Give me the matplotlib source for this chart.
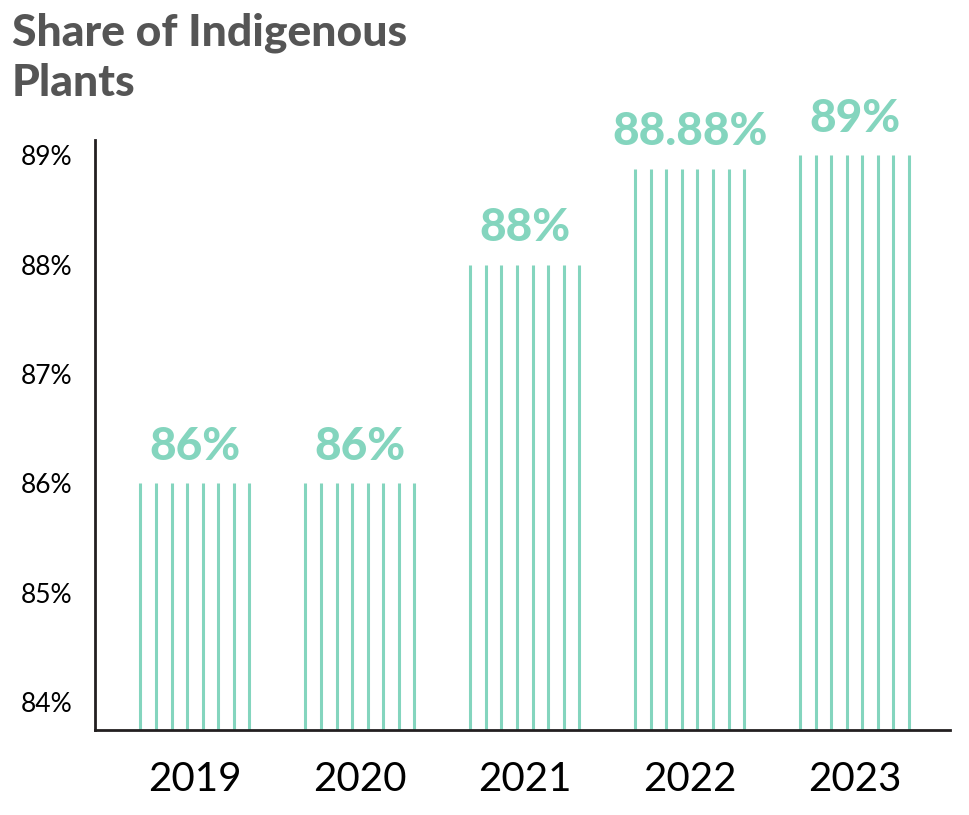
import matplotlib.pyplot as plt
import numpy as np

years = ["2019", "2020", "2021", "2022", "2023"]
values = [86, 86, 88, 88.88, 89]
labels = ["86%", "86%", "88%", "88.88%", "89%"]
yticks = [84, 85, 86, 87, 88, 89]

green = "#84D5BE"
fig = plt.figure(figsize=(9.69, 8.15), dpi=100)
ax = fig.add_axes([0.098, 0.104, 0.882, 0.724])

n_lines = 8
offs = np.linspace(-0.33, 0.33, n_lines)
for i, v in enumerate(values):
    ax.vlines(i + offs, 83.74, v, color=green, lw=2.2)
    ax.text(i, v + 0.14, labels[i], ha="center", va="bottom", color=green,
            fontsize=33, fontweight="black", family="Lato")

ax.set_xlim(-0.606, 4.576)
ax.set_ylim(83.74, 89.14)
ax.set_xticks(range(len(years)))
ax.set_xticklabels(years, fontsize=29, family="Lato")
ax.set_yticks(yticks)
ax.set_yticklabels([f"{t}%" for t in yticks], fontsize=19, family="Lato")
ax.tick_params(length=0)
ax.tick_params(axis="x", pad=22)
ax.tick_params(axis="y", pad=16)
for s in ["top", "right"]:
    ax.spines[s].set_visible(False)
for s in ["left", "bottom"]:
    ax.spines[s].set_linewidth(2)
    ax.spines[s].set_color("#231f20")

fig.text(0.012, 0.985, "Share of Indigenous\nPlants", ha="left", va="top",
         fontsize=32, fontweight="black", color="#555555", family="Lato",
         linespacing=1.3)

fig.savefig("out.png", dpi=100)
